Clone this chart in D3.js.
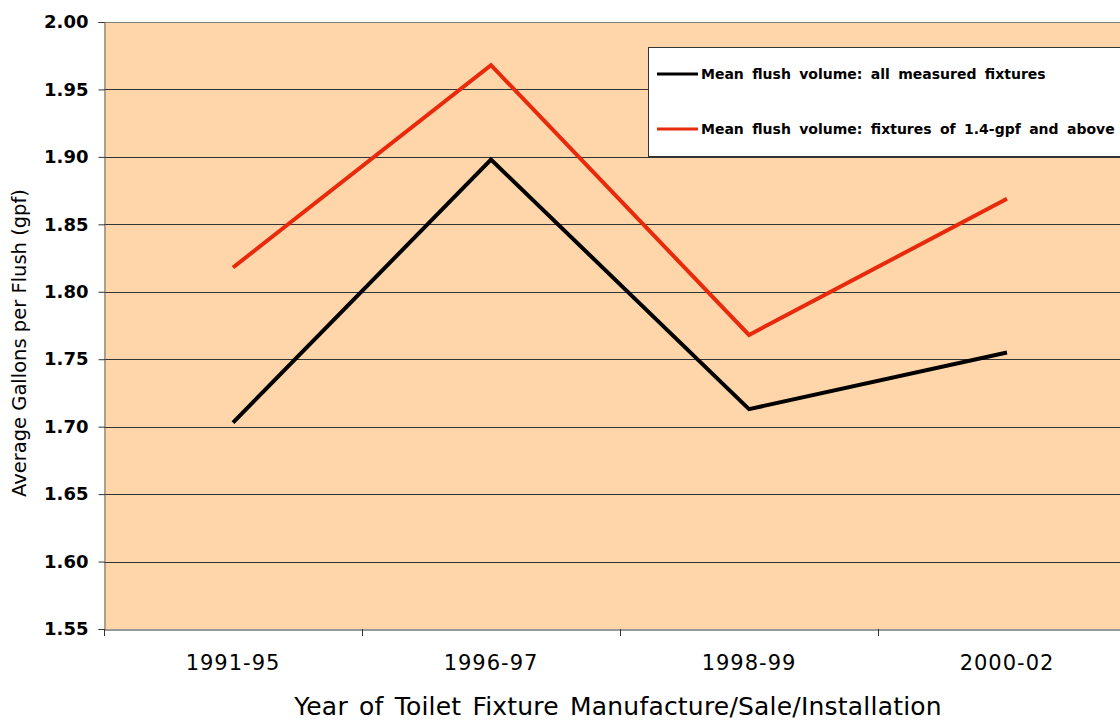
<!DOCTYPE html>
<html><head><meta charset="utf-8">
<script src="https://cdn.jsdelivr.net/npm/d3@7"></script>
<style>body{margin:0;background:#fff;}svg{display:block;}</style>
</head><body>
<svg id="c" width="1120" height="723"></svg>
<script>
const categories = ["1991-95", "1996-97", "1998-99", "2000-02"];
const allFixtures = [1.703, 1.898, 1.713, 1.755];
const above14 = [1.818, 1.968, 1.768, 1.869];
const yTicks = [1.55, 1.60, 1.65, 1.70, 1.75, 1.80, 1.85, 1.90, 1.95, 2.00];
const seriesNames = ["Mean flush volume: all measured fixtures", "Mean flush volume: fixtures of 1.4-gpf and above"];
const seriesColors = ["#000000", "#E8290B"];

const svg = d3.select("#c");
const L = 104, R = 1136, T = 22, B = 629;
const font = "'DejaVu Sans', Verdana, sans-serif";

const x = d3.scaleBand().domain(categories).range([L, R]);
const y = d3.scaleLinear().domain([1.55, 2.00]).range([B, T]);

svg.append("rect").attr("x", L).attr("y", T).attr("width", R - L).attr("height", B - T).attr("fill", "#FFD6AA");

// gridlines
svg.append("g").selectAll("line").data(yTicks.slice(1)).join("line")
  .attr("x1", L).attr("x2", R).attr("y1", d => Math.round(y(d)) + 0.5).attr("y2", d => Math.round(y(d)) + 0.5)
  .attr("stroke", d => d === 2.00 ? "#808080" : "#333").attr("stroke-width", 1);

// y axis
const ya = svg.append("g").attr("transform", `translate(${L + 0.5},0)`)
  .call(d3.axisLeft(y).tickValues(yTicks).tickFormat(d3.format(".2f")).tickSize(6).tickPadding(10));
ya.select(".domain").attr("stroke", "#666");
ya.selectAll(".tick line").attr("stroke", "#333");
ya.selectAll("text").attr("font-family", font).attr("font-size", 18).attr("font-weight", "bold").attr("fill", "#000");

// x axis
const xa = svg.append("g").attr("transform", `translate(0,${B + 0.5})`)
  .call(d3.axisBottom(x).tickSize(0).tickPadding(26));
xa.select(".domain").attr("stroke", "#333");
xa.selectAll("text").attr("font-family", font).attr("font-size", 21).attr("letter-spacing", 1).attr("fill", "#000");
svg.append("g").selectAll("line").data(categories.concat(["_end"])).join("line")
  .attr("x1", (d, i) => Math.round(L + i * x.bandwidth()) + 0.5)
  .attr("x2", (d, i) => Math.round(L + i * x.bandwidth()) + 0.5)
  .attr("y1", B).attr("y2", B + 7).attr("stroke", "#333");

// lines
const line = d3.line().x((d, i) => x(categories[i]) + x.bandwidth() / 2).y(d => y(d));
[allFixtures, above14].forEach((s, k) => {
  svg.append("path").datum(s).attr("d", line).attr("fill", "none")
    .attr("stroke", seriesColors[k]).attr("stroke-width", 4).attr("stroke-linejoin", "miter");
});

// legend
const lg = svg.append("g");
lg.append("rect").attr("x", 648.5).attr("y", 47.5).attr("width", 500).attr("height", 109)
  .attr("fill", "#fff").attr("stroke", "#333").attr("stroke-width", 1);
seriesNames.forEach((n, i) => {
  const yy = 74 + i * 55;
  lg.append("line").attr("x1", 657).attr("x2", 698).attr("y1", yy).attr("y2", yy)
    .attr("stroke", seriesColors[i]).attr("stroke-width", 3);
  lg.append("text").attr("x", 701).attr("y", yy + 5).text(n)
    .attr("font-family", font).attr("font-size", 14).attr("font-weight", "bold").attr("word-spacing", 3.5);
});

// axis titles
svg.append("text").attr("x", 618).attr("y", 715).attr("text-anchor", "middle")
  .attr("font-family", font).attr("font-size", 25).attr("letter-spacing", 0.2).attr("word-spacing", 3).text("Year of Toilet Fixture Manufacture/Sale/Installation");
svg.append("text").attr("transform", "translate(26,343) rotate(-90)").attr("text-anchor", "middle")
  .attr("font-family", font).attr("font-size", 19.5).text("Average Gallons per Flush (gpf)");
</script>
</body></html>
